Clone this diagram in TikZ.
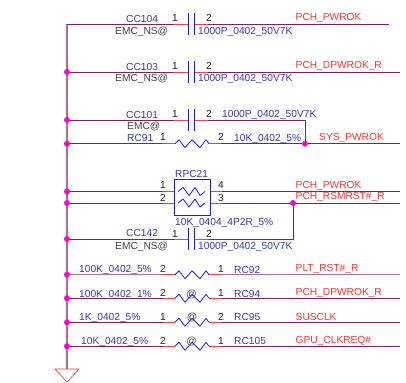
\documentclass[tikz,border=0pt]{standalone}
\usepackage{fontspec}
\setmainfont{Liberation Sans}
\definecolor{wirec}{HTML}{8A1C5C}
\definecolor{stubc}{HTML}{FF3B3B}
\definecolor{symc}{HTML}{1A1AF0}
\definecolor{refc}{HTML}{3A3AA8}
\definecolor{netc}{HTML}{FF3030}
\definecolor{dotc}{HTML}{FF00E0}
\definecolor{pinc}{HTML}{222222}
\tikzset{
 x=1pt,y=-1pt,
 wire/.style={draw=wirec,line width=0.8pt},
 rail/.style={draw=wirec!65!white,line width=1.1pt},
 pinstub/.style={draw=stubc,line width=0.8pt},
 sym/.style={draw=symc,line width=0.8pt,line join=round},
 txt/.style={inner sep=0pt,anchor=base west,font=\fontsize{10.2}{12}\selectfont},
 ref/.style={txt,text=refc},
 net/.style={txt,text=netc},
 pn/.style={inner sep=0pt,anchor=base,font=\fontsize{10.2}{12}\selectfont,text=pinc},
 ats/.style={txt,text=pinc!85!white},
 dot/.style={circle,fill=dotc,inner sep=0pt,minimum size=6pt}
}
% capacitor: name, y
\newcommand{\capsym}[2]{%
 \coordinate (#1l) at (174,#2); \coordinate (#1r) at (208,#2);
 \coordinate (#1a) at (188,#2); \coordinate (#1b) at (194.3,#2);
 \draw[pinstub] (#1l) -- (#1a);
 \draw[pinstub] (#1b) -- (#1r);
 \draw[sym] ([yshift=11pt]#1a) -- ([yshift=-11pt]#1a);
 \draw[sym] ([yshift=11pt]#1b) -- ([yshift=-11pt]#1b);
}
% resistor: name, y
\newcommand{\ressym}[2]{%
 \coordinate (#1l) at (162.5,#2); \coordinate (#1r) at (222,#2);
 \coordinate (#1a) at (175,#2); \coordinate (#1b) at (209,#2);
 \draw[pinstub] (#1l) -- (#1a);
 \draw[pinstub] (#1b) -- (#1r);
 \draw[sym] (#1a) -- (179,#2-4) -- (185,#2+4) -- (192,#2-4) -- (200,#2+4) -- (206,#2-4) -- (#1b);
}
% inner element of the resistor pack: name, y
\newcommand{\packsym}[2]{%
 \coordinate (#1l) at (162.5,#2); \coordinate (#1r) at (222,#2);
 \coordinate (#1a) at (174,#2); \coordinate (#1b) at (210,#2);
 \draw[pinstub] (#1l) -- (#1a);
 \draw[pinstub] (#1b) -- (#1r);
 \draw[sym] (178,#2) -- (183,#2-4) -- (189,#2+4) -- (195,#2-4) -- (200,#2+4) -- (205,#2);
}
\begin{document}
\begin{tikzpicture}
\useasboundingbox (0,0) rectangle (406,382);
% components
\capsym{cA}{24}
\capsym{cB}{72}
\capsym{cC}{120}
\ressym{rA}{143.7}
\packsym{pA}{191.5}
\packsym{pB}{203}
\draw[sym] (174,179.3) rectangle (210,215);
\capsym{cD}{239}
\ressym{rB}{274.7}
\ressym{rC}{298.3}
\ressym{rD}{322.3}
\ressym{rE}{346.3}
% rail top and net ends
\coordinate (top) at (67,24);
\coordinate (gnd) at (67,369);
\coordinate (gl) at (55,369); \coordinate (gr) at (79,369); \coordinate (gt) at (67,382);
\coordinate (jSc) at (305,143.7);
\coordinate (jRc) at (293,203);
\coordinate (eA) at (388.5,24);
\coordinate (eB) at (400,72);
\coordinate (eS) at (400,143.7);
\coordinate (eP) at (400,191.5);
\coordinate (eR) at (400,203);
\coordinate (eRB) at (400,274.7);
\coordinate (eRC) at (400,298.3);
\coordinate (eRD) at (400,322.3);
\coordinate (eRE) at (400,346.3);
\coordinate (jB) at (67,72);
\coordinate (jC) at (67,120);
\coordinate (jRA) at (67,143.7);
\coordinate (jPA) at (67,191.5);
\coordinate (jPB) at (67,203);
\coordinate (jD) at (67,239);
\coordinate (jRB) at (67,274.7);
\coordinate (jRC) at (67,298.3);
\coordinate (jRD) at (67,322.3);
\coordinate (jRE) at (67,346.3);
\draw[rail] (top) -- (gnd);
\draw[wire] (top) -- (cAl);
\draw[wire] (cAr) -- (eA);
\draw[wire] (jB) -- (cBl);
\draw[wire] (cBr) -- (eB);
\draw[wire] (jC) -- (cCl);
\draw[wire] (cCr) -| (jSc);
\draw[wire] (jRA) -- (rAl);
\draw[wire] (rAr) -- (eS);
\draw[wire] (jPA) -- (pAl);
\draw[wire] (pAr) -- (eP);
\draw[wire] (jPB) -- (pBl);
\draw[wire] (pBr) -- (eR);
\draw[wire] (jD) -- (cDl);
\draw[wire] (cDr) -| (jRc);
\draw[rail] (jRB) -- (rBl);
\draw[rail] (rBr) -- (eRB);
\draw[wire] (jRC) -- (rCl);
\draw[wire] (rCr) -- (eRC);
\draw[wire] (jRD) -- (rDl);
\draw[wire] (rDr) -- (eRD);
\draw[wire] (jRE) -- (rEl);
\draw[wire] (rEr) -- (eRE);
\draw[draw=netc,line width=0.6pt] (gl) -- (gr) -- (gt) -- cycle;
% junction dots
\foreach \j/\n in {jB/dB,jC/dC,jRA/dRA,jPA/dPA,jPB/dPB,jD/dD,jRB/dRB,jRC/dRC,jRD/dRD,jRE/dRE,jSc/dS,jRc/dR}
  \node[dot] (\n) at (\j) {};
% row CC104
\node[ref] (t1) at (126,23) {CC104};
\node[ats] (t2) at (115,35) {EMC\_NS@};
\node[pn] (t3) at (175,22) {1};
\node[pn] (t4) at (209,22) {2};
\node[ref] (t5) at (198,35) {1000P\_0402\_50V7K};
\node[net] (t6) at (295.5,20.7) {PCH\_PWROK};
% row CC103
\node[ref] (t7) at (126,71) {CC103};
\node[ats] (t8) at (115,82) {EMC\_NS@};
\node[pn] (t9) at (175,70) {1};
\node[pn] (t10) at (209,70) {2};
\node[ref] (t11) at (198,82) {1000P\_0402\_50V7K};
\node[net] (t12) at (295.5,69) {PCH\_DPWROK\_R};
% row CC101
\node[ref] (t13) at (126,118.5) {CC101};
\node[ats] (t14) at (127,130) {EMC@};
\node[pn] (t15) at (175,118) {1};
\node[pn] (t16) at (209,118) {2};
\node[ref] (t17) at (222,118) {1000P\_0402\_50V7K};
% row RC91
\node[ref] (t18) at (127,141.5) {RC91};
\node[pn] (t19) at (163,141) {1};
\node[pn] (t20) at (221,141) {2};
\node[ref] (t21) at (234,141.5) {10K\_0402\_5\%};
\node[net] (t22) at (319,140) {SYS\_PWROK};
% RPC21
\node[ref] (t23) at (175,177.6) {RPC21};
\node[pn] (t24) at (163,188.5) {1};
\node[pn] (t25) at (163,201) {2};
\node[pn] (t26) at (221,188.5) {4};
\node[pn] (t27) at (221,201) {3};
\node[net] (t28) at (295.5,188) {PCH\_PWROK};
\node[net] (t29) at (295.5,199.5) {PCH\_RSMRST\#\_R};
\node[ref] (t30) at (175,225) {10K\_0404\_4P2R\_5\%};
% row CC142
\node[ref] (t31) at (126,236.7) {CC142};
\node[ats] (t32) at (115,249) {EMC\_NS@};
\node[pn] (t33) at (175,237) {1};
\node[pn] (t34) at (209,237) {2};
\node[ref] (t35) at (198,249) {1000P\_0402\_50V7K};
% lower rows
\node[ref] (t36) at (79,272.7) {100K\_0402\_5\%};
\node[pn] (t37) at (163,272) {2};
\node[pn] (t38) at (221,272) {1};
\node[ref] (t39) at (234,273) {RC92};
\node[net] (t40) at (295.5,271) {PLT\_RST\#\_R};
\node[ref] (t41) at (79,297) {100K\_0402\_1\%};
\node[pn] (t42) at (163,296) {2};
\node[pn] (t43) at (221,296) {1};
\node[ats,anchor=base] (t44) at (191.5,297) {@};
\node[ref] (t45) at (234,297) {RC94};
\node[net] (t46) at (295.5,295) {PCH\_DPWROK\_R};
\node[ref] (t47) at (79,320) {1K\_0402\_5\%};
\node[pn] (t48) at (163,320) {1};
\node[pn] (t49) at (221,320) {2};
\node[ats,anchor=base] (t50) at (192,320) {@};
\node[ref] (t51) at (234,320) {RC95};
\node[net] (t52) at (295.5,320) {SUSCLK};
\node[ref] (t53) at (81,344) {10K\_0402\_5\%};
\node[pn] (t54) at (163,344) {2};
\node[pn] (t55) at (221,344) {1};
\node[ats,anchor=base] (t56) at (191.5,344) {@};
\node[ref] (t57) at (234,344.5) {RC105};
\node[net] (t58) at (295.5,343) {GPU\_CLKREQ\#};
\end{tikzpicture}
\end{document}
